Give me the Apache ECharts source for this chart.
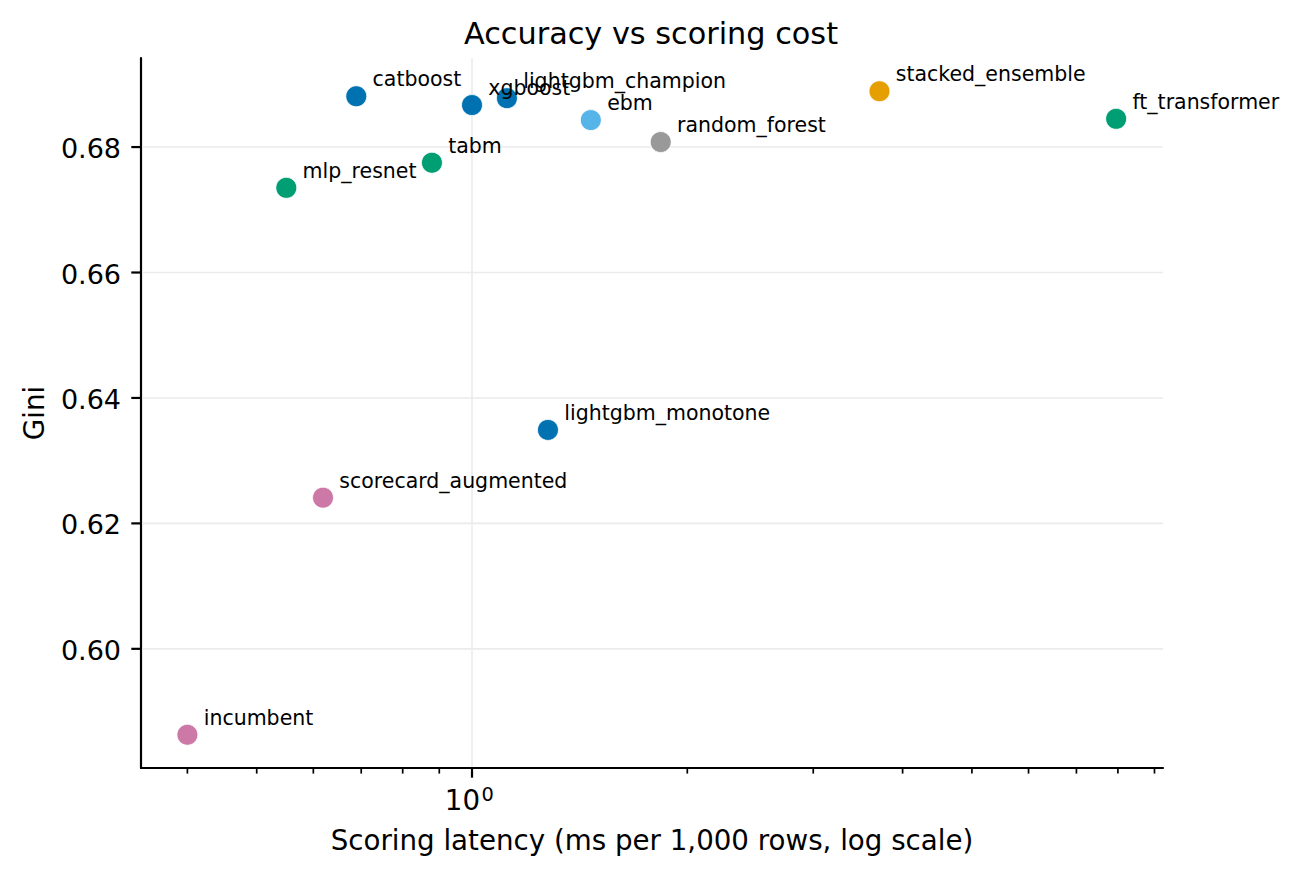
<!DOCTYPE html>
<html>
<head>
<meta charset="utf-8">
<script src="https://cdn.jsdelivr.net/npm/echarts@6/dist/echarts.min.js"></script>
<style>
html,body{margin:0;padding:0;background:#fff}
#chart{width:1302px;height:876px}
</style>
</head>
<body>
<div id="chart"></div>
<script>
// ---- data ----
const models = ['catboost','xgboost','lightgbm_champion','ebm','random_forest','stacked_ensemble','ft_transformer','tabm','mlp_resnet','lightgbm_monotone','scorecard_augmented','incumbent'];
const latencyMs = [0.689, 1.000, 1.119, 1.466, 1.836, 3.713, 7.955, 0.879, 0.550, 1.277, 0.619, 0.400];
const gini = [0.6881, 0.6867, 0.6878, 0.6843, 0.6808, 0.6889, 0.6845, 0.6775, 0.6735, 0.6349, 0.6241, 0.5863];
const family = ['boosting','boosting','boosting','glassbox','bagging','ensemble','neural','neural','neural','boosting','scorecard','scorecard'];
const xMajorTicks = [1];
const xMajorTickBase = ['10'];
const xMajorTickExp = ['0'];
const xMinorTicks = [0.4, 0.5, 0.6, 0.7, 0.8, 0.9, 2, 3, 4, 5, 6, 7, 8, 9];
const yTicks = [0.60, 0.62, 0.64, 0.66, 0.68];
const yTickLabels = ['0.60', '0.62', '0.64', '0.66', '0.68'];
const xRange = [0.3445, 9.25];
const yRange = [0.5810, 0.6942];
const titleText = 'Accuracy vs scoring cost';
const xName = 'Scoring latency (ms per 1,000 rows, log scale)';
const yName = 'Gini';

// ---- styles ----
const familyColor = {
  boosting: '#0072B2', glassbox: '#56B4E9', bagging: '#999999',
  ensemble: '#E69F00', neural: '#009E73', scorecard: '#CC79A7'
};
const FONT = 'DejaVu Sans';
const GRID_COLOR = '#ebebeb';

const chart = echarts.init(document.getElementById('chart'), null, {renderer: 'svg'});

const xTickData = xMajorTicks.map((v, i) => [v, yRange[0], 1, i])
  .concat(xMinorTicks.map(v => [v, yRange[0], 0, -1]));
const yTickData = yTicks.map((v, i) => [xRange[0], v, i]);

const option = {
  animation: false,
  title: {
    text: titleText, left: 'center', top: 13,
    textStyle: {fontFamily: FONT, fontSize: 30.3, fontWeight: 'normal', color: '#000'}
  },
  grid: {left: 141, right: 139, top: 58, bottom: 108, containLabel: false},
  xAxis: {
    type: 'log', logBase: 10, min: xRange[0], max: xRange[1],
    name: xName, nameLocation: 'middle', nameGap: 58,
    nameTextStyle: {fontFamily: FONT, fontSize: 27.7, color: '#000'},
    axisLine: {show: true, lineStyle: {color: '#000', width: 2.2}},
    axisTick: {show: false}, axisLabel: {show: false},
    splitLine: {show: false}, minorTick: {show: false}, minorSplitLine: {show: false}
  },
  yAxis: {
    type: 'value', min: yRange[0], max: yRange[1],
    name: yName, nameLocation: 'middle', nameGap: 93, nameRotate: 90,
    nameTextStyle: {fontFamily: FONT, fontSize: 27.7, color: '#000'},
    axisLine: {show: true, lineStyle: {color: '#000', width: 2.2}},
    axisTick: {show: false}, axisLabel: {show: false}, splitLine: {show: false}
  },
  series: [
    {
      type: 'custom', z: 1, silent: true,
      data: xTickData, encode: {x: 0, y: 1},
      renderItem: function (params, api) {
        const v = api.value(0), major = api.value(2) === 1, li = api.value(3);
        const p = api.coord([v, yRange[0]]);
        const top = api.coord([v, yRange[1]])[1];
        const ch = [];
        if (major) {
          ch.push({type: 'line', shape: {x1: p[0], y1: top, x2: p[0], y2: p[1] - 1.2},
                   style: {stroke: GRID_COLOR, lineWidth: 1.6}});
        }
        ch.push({type: 'line', shape: {x1: p[0], y1: p[1], x2: p[0], y2: p[1] + (major ? 9.7 : 5.6)},
                 style: {stroke: '#000', lineWidth: major ? 2.2 : 1.7}});
        if (major) {
          ch.push({type: 'text', style: {text: xMajorTickBase[li], x: p[0] + 8, y: p[1] + 32.5,
                   align: 'right', verticalAlign: 'middle', fontFamily: FONT, fontSize: 27.7, fill: '#000'}});
          ch.push({type: 'text', style: {text: xMajorTickExp[li], x: p[0] + 9.5, y: p[1] + 26.3,
                   align: 'left', verticalAlign: 'middle', fontFamily: FONT, fontSize: 19.4, fill: '#000'}});
        }
        return {type: 'group', children: ch};
      }
    },
    {
      type: 'custom', z: 1, silent: true,
      data: yTickData, encode: {x: 0, y: 1},
      renderItem: function (params, api) {
        const v = api.value(1), li = api.value(2);
        const p = api.coord([xRange[0], v]);
        const right = api.coord([xRange[1], v])[0];
        return {type: 'group', children: [
          {type: 'line', shape: {x1: p[0] + 1.2, y1: p[1], x2: right, y2: p[1]},
           style: {stroke: GRID_COLOR, lineWidth: 1.6}},
          {type: 'line', shape: {x1: p[0] - 9.7, y1: p[1], x2: p[0], y2: p[1]},
           style: {stroke: '#000', lineWidth: 2.2}},
          {type: 'text', style: {text: yTickLabels[li], x: p[0] - 20, y: p[1] + 1.5,
           align: 'right', verticalAlign: 'middle', fontFamily: FONT, fontSize: 27, fill: '#000'}}
        ]};
      }
    },
    {
      type: 'scatter', z: 3,
      symbol: 'circle', symbolSize: 21,
      data: models.map((m, i) => ({
        name: m, value: [latencyMs[i], gini[i]],
        itemStyle: {color: familyColor[family[i]]}
      })),
      itemStyle: {borderColor: '#ffffff', borderWidth: 0.8, opacity: 1},
      label: {
        show: true, formatter: p => p.name,
        position: [27.2, -6], align: 'left', verticalAlign: 'middle',
        fontFamily: FONT, fontSize: 20.5, color: '#000'
      },
      labelLayout: {hideOverlap: false},
      emphasis: {disabled: true}
    }
  ]
};
chart.setOption(option);
</script>
</body>
</html>
